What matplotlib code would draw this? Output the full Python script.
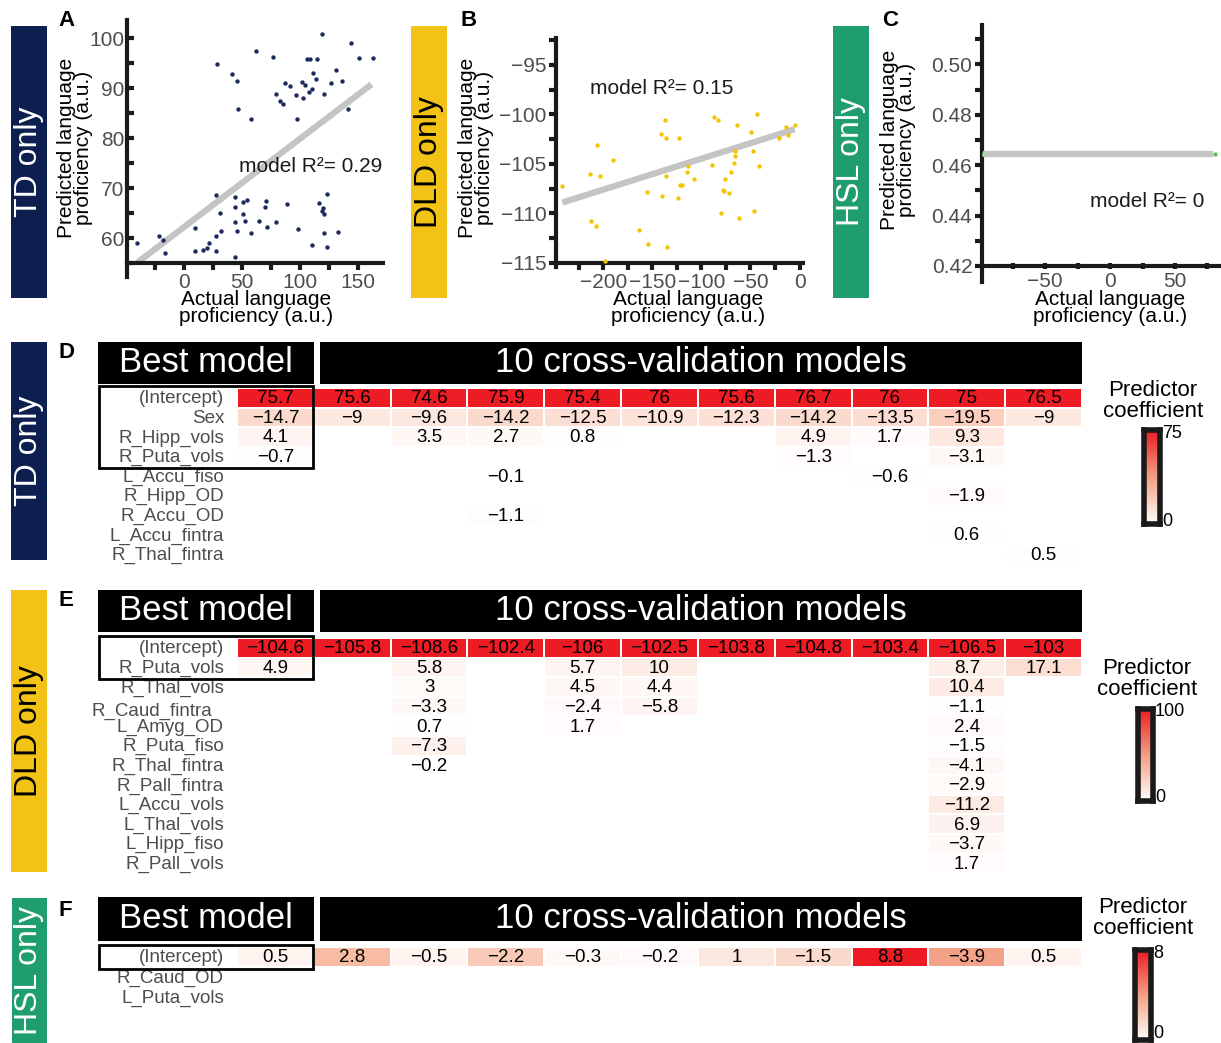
import numpy as np
import matplotlib.pyplot as plt
from matplotlib.patches import Rectangle
from matplotlib.colors import LinearSegmentedColormap, Normalize
from matplotlib.ticker import MultipleLocator, FormatStrFormatter

plt.rcParams['font.family'] = ['Liberation Sans', 'DejaVu Sans']

W, H = 1221, 1043
_ = None

# ---- A: TD only (actual vs predicted)
td_actual = [119, 144, 62, 77, 151, 163, 106, 109, 115, 29, 42, 46, 112, 114, 131, 137, 127,
             102, 105, 87, 92, 80, 97, 103, 108, 111, 121, 83, 86, 47, 142, 58, 98,
             28, 44, 124, 51, 55, 71, 70, 89, 44, 31, 51, 117, 120, 119, 121, 44, 53, 65, 80,
             10, 32, 46, 58, 72, 99, 121, 133, 28, -21, -18, -40, -16, 22, 20, 17, 10, 28,
             111, 124, 44]
td_pred = [100.9, 99, 97.5, 96.3, 96, 96, 95.8, 95.8, 95.8, 94.9, 92.9, 91.4, 93, 91.9, 93.7, 91.5, 91.1,
           91.2, 90.6, 91, 90.4, 88.9, 88.6, 88.1, 89.3, 89.9, 88.9, 87.5, 86.8, 85.9, 85.8, 83.9, 83.8,
           68.6, 68.3, 68.9, 67.3, 67.7, 67.5, 66.3, 66.9, 66.3, 65.1, 64.9, 67.1, 66, 65.5, 64.9, 63.3, 63.4, 63.4, 63.3,
           62, 61.5, 61.5, 61, 62.3, 61.9, 61.1, 61.2, 60.5, 60.5, 59.6, 59.1, 57.1, 59.1, 58.1, 57.7, 57.5, 57.5,
           58.6, 58.3, 56.3]
td_fit_x = [-40, 162]
td_fit_y = [55.1, 90.8]

# ---- B: DLD only
dld_actual = [-241.6, -213.7, -212.4, -207.6, -206.5, -202.7, -197.6, -190.0, -163.6, -155.3,
              -154.0, -141.2, -140.2, -136.8, -135.7, -135.7, -135.4, -123.4, -123.0, -122.0,
              -119.2, -114.1, -115.1, -107.9, -89.3, -87.3, -82.8, -80.1, -78.4, -76.6,
              -75.6, -71.8, -69.8, -66.3, -66.0, -65.3, -63.9, -61.9, -49.1, -47.4,
              -46.4, -41.6, -43.0, -20.6, -13.7, -11.3, -4.8]
dld_pred = [-107.2, -106.0, -110.8, -111.3, -103.1, -106.2, -114.8, -104.6, -111.7, -107.8,
            -113.1, -102.0, -108.2, -100.6, -102.4, -106.2, -113.4, -108.4, -102.4, -107.1,
            -107.1, -105.2, -105.8, -106.5, -105.1, -100.3, -100.6, -110.0, -107.6, -107.7,
            -106.5, -107.9, -105.8, -104.9, -104.2, -103.7, -101.1, -110.5, -101.8, -103.7,
            -109.8, -105.2, -100.0, -102.4, -101.3, -102.1, -101.1]
dld_fit_x = [-241.6, -4.8]
dld_fit_y = [-108.9, -101.5]

# ---- C: HSL only
hsl_actual = [-98, 80.5]
hsl_pred = [0.4646, 0.4646]
hsl_fit_x = [-97.4, 79.5]
hsl_fit_y = [0.4646, 0.4646]

# ---- D/E/F: predictor coefficients (best model + 10 CV models)
td_rows = ['(Intercept)', 'Sex', 'R_Hipp_vols', 'R_Puta_vols', 'L_Accu_fiso', 'R_Hipp_OD',
           'R_Accu_OD', 'L_Accu_fintra', 'R_Thal_fintra']
td_coefs = [
    [75.7, 75.6, 74.6, 75.9, 75.4, 76, 75.6, 76.7, 76, 75, 76.5],
    [-14.7, -9, -9.6, -14.2, -12.5, -10.9, -12.3, -14.2, -13.5, -19.5, -9],
    [4.1, _, 3.5, 2.7, 0.8, _, _, 4.9, 1.7, 9.3, _],
    [-0.7, _, _, _, _, _, _, -1.3, _, -3.1, _],
    [_, _, _, -0.1, _, _, _, _, -0.6, _, _],
    [_, _, _, _, _, _, _, _, _, -1.9, _],
    [_, _, _, -1.1, _, _, _, _, _, _, _],
    [_, _, _, _, _, _, _, _, _, 0.6, _],
    [_, _, _, _, _, _, _, _, _, _, 0.5],
]
dld_rows = ['(Intercept)', 'R_Puta_vols', 'R_Thal_vols', 'R_Caud_fintra', 'L_Amyg_OD', 'R_Puta_fiso',
            'R_Thal_fintra', 'R_Pall_fintra', 'L_Accu_vols', 'L_Thal_vols', 'L_Hipp_fiso', 'R_Pall_vols']
dld_coefs = [
    [-104.6, -105.8, -108.6, -102.4, -106, -102.5, -103.8, -104.8, -103.4, -106.5, -103],
    [4.9, _, 5.8, _, 5.7, 10, _, _, _, 8.7, 17.1],
    [_, _, 3, _, 4.5, 4.4, _, _, _, 10.4, _],
    [_, _, -3.3, _, -2.4, -5.8, _, _, _, -1.1, _],
    [_, _, 0.7, _, 1.7, _, _, _, _, 2.4, _],
    [_, _, -7.3, _, _, _, _, _, _, -1.5, _],
    [_, _, -0.2, _, _, _, _, _, _, -4.1, _],
    [_, _, _, _, _, _, _, _, _, -2.9, _],
    [_, _, _, _, _, _, _, _, _, -11.2, _],
    [_, _, _, _, _, _, _, _, _, 6.9, _],
    [_, _, _, _, _, _, _, _, _, -3.7, _],
    [_, _, _, _, _, _, _, _, _, 1.7, _],
]
hsl_rows = ['(Intercept)', 'R_Caud_OD', 'L_Puta_vols']
hsl_coefs = [
    [0.5, 2.8, -0.5, -2.2, -0.3, -0.2, 1, -1.5, 8.8, -3.9, 0.5],
    [_] * 11,
    [_] * 11,
]
cbar_max = [75, 100, 8]

coef_cmap = LinearSegmentedColormap.from_list(
    'coef', [(0, '#ffffff'), (0.35, '#f8bba4'), (0.5, '#f4a084'), (1, '#ed1c24')])

fig = plt.figure(figsize=(W / 100, H / 100), dpi=100)


def add_ax(x0, y0, x1, y1):
    return fig.add_axes([x0 / W, 1 - y1 / H, (x1 - x0) / W, (y1 - y0) / H])


def px_text(x, y, s, **kw):
    fig.text(x / W, 1 - y / H, s, **kw)


def px_rect(x0, y0, x1, y1, **kw):
    fig.add_artist(Rectangle((x0 / W, 1 - y1 / H), (x1 - x0) / W, (y1 - y0) / H,
                             transform=fig.transFigure, **kw))


def fmt(v):
    return f'{v:g}'.replace('-', '\u2212')


def side_label(x0, y0, x1, y1, text, bg, fg):
    px_rect(x0, y0, x1, y1, color=bg, lw=0)
    px_text((x0 + x1) / 2, (y0 + y1) / 2, text, rotation=90, ha='center', va='center',
            fontsize=23, color=fg)


def scatter_panel(box, xs, ys, fit_x, fit_y, color, xlim, ylim, xstep, ystep,
                  ydir, xdir, r2_xy, r2, line_on_top=False, yfmt=None, ext=0):
    ax = add_ax(*box)
    ax.plot(fit_x, fit_y, color='#c4c4c4', lw=4.5, solid_capstyle='butt',
            zorder=4 if line_on_top else 2)
    ax.scatter(xs, ys, s=10, color=color, lw=0, zorder=3)
    ax.set_xlim(xlim)
    ax.set_ylim(ylim)
    ax.patch.set_visible(False)
    for s in ['top', 'right']:
        ax.spines[s].set_visible(False)
    for s in ['left', 'bottom']:
        ax.spines[s].set_linewidth(3)
        ax.spines[s].set_color('#1a1a1a')
    ax.spines['left'].set_bounds(ylim[0] - ext, ylim[1])
    ax.xaxis.set_major_locator(MultipleLocator(xstep))
    ax.xaxis.set_minor_locator(MultipleLocator(xstep / 2))
    ax.yaxis.set_major_locator(MultipleLocator(ystep))
    ax.yaxis.set_minor_locator(MultipleLocator(ystep / 2))
    if yfmt:
        ax.yaxis.set_major_formatter(FormatStrFormatter(yfmt))
    ax.tick_params(which='both', width=3, length=5, color='#1a1a1a', labelsize=15,
                   labelcolor='#4d4d4d', pad=2)
    ax.tick_params(axis='y', which='both', direction=ydir)
    ax.tick_params(axis='x', which='both', direction=xdir)
    ax.text(r2_xy[0], r2_xy[1], r2, fontsize=15, color='#1a1a1a', ha='left', va='center')
    return ax


# ---------- top row: scatter panels
side_label(11, 26, 47, 298, 'TD only', '#0c1f4e', 'white')
side_label(411, 26, 447, 298, 'DLD only', '#f2c316', 'black')
side_label(833, 26, 869, 298, 'HSL only', '#1f9d6f', 'white')

scatter_panel((127, 20, 383, 263), td_actual, td_pred, td_fit_x, td_fit_y, '#1b2b5e',
              (-49, 172), (55, 103.7), 50, 10, 'in', 'out', (48, 74.3), 'model R²= 0.29', ext=2.8)
scatter_panel((556, 38, 803, 263), dld_actual, dld_pred, dld_fit_x, dld_fit_y, '#f5c400',
              (-248, 3.5), (-115, -92.3), 50, 5, 'out', 'out', (-213, -97.4), 'model R²= 0.15', ext=0.4)
scatter_panel((982, 25, 1221, 266), hsl_actual, hsl_pred, hsl_fit_x, hsl_fit_y, '#5cc15c',
              (-98.5, 85.4), (0.42, 0.5156), 50, 0.02, 'out', 'inout', (-15.4, 0.4454), 'model R²= 0',
              line_on_top=True, yfmt='%.2f', ext=0.0063)

ylab = 'Predicted language\nproficiency (a.u.)'
xlab = 'Actual language\nproficiency (a.u.)'
for x, y in [(75, 148), (476, 148), (898, 140)]:
    px_text(x, y, ylab, rotation=90, ha='center', va='center', fontsize=15, linespacing=0.9)
for x in [256, 688, 1110]:
    px_text(x, 308, xlab, ha='center', va='center', fontsize=15, linespacing=0.9)

for x, y, s in [(58, 20, 'A'), (460, 20, 'B'), (882, 20, 'C'),
                (59, 353, 'D'), (59, 600, 'E'), (59, 910, 'F')]:
    px_text(x, y, s, fontsize=16, fontweight='bold', ha='left', va='center')


# ---------- coefficient tables
def table_panel(rows, vals, vmax, head, cell_top, row_h, n_best, cbar_box, cbar_title_xy):
    n = len(rows)
    col_w = (1082 - 237) / 11
    ax = add_ax(237, cell_top, 1082, cell_top + n * row_h)
    data = np.array([[np.nan if v is None else abs(v) for v in r] for r in vals], dtype=float)
    ax.pcolormesh(np.ma.masked_invalid(data), cmap=coef_cmap,
                  norm=Normalize(0, vmax, clip=True), edgecolors='white', linewidth=1.2)
    ax.set_xlim(0, 11)
    ax.set_ylim(n, 0)
    ax.axis('off')
    for i, r in enumerate(vals):
        for j, v in enumerate(r):
            if v is not None:
                ax.text(j + 0.5, i + 0.55, fmt(v), ha='center', va='center', fontsize=13.5)
    for i, name in enumerate(rows):
        dx, dy = (-25, 0.2) if name == 'R_Caud_fintra' else (-13, 0)
        ax.text(dx / col_w, i + 0.55 + dy, name, ha='right', va='center', fontsize=13.5,
                color='#4d4d4d', clip_on=False)

    # headers
    px_rect(98, head[0], 314, head[1], color='black', lw=0)
    px_rect(320, head[0], 1082, head[1], color='black', lw=0)
    hy = (head[0] + head[1]) / 2
    px_text(206, hy, 'Best model', color='white', fontsize=25, ha='center', va='center')
    px_text(701, hy, '10 cross-validation models', color='white', fontsize=25,
            ha='center', va='center')
    # best-model outline
    px_rect(99, cell_top - 2, 313, cell_top + n_best * row_h + 2, fill=False,
            ec='black', lw=2, zorder=5)

    # colour bar
    cax = add_ax(*cbar_box)
    cax.imshow(np.linspace(0, 1, 256)[:, None], aspect='auto', cmap=coef_cmap,
               origin='lower', extent=(0, 1, 0, 1))
    cax.set_xticks([])
    cax.set_yticks([])
    for s in cax.spines.values():
        s.set_linewidth(4)
        s.set_color('#1a1a1a')
    x1, y0, y1 = cbar_box[2], cbar_box[1], cbar_box[3]
    px_text(x1 + 2, y0 + 3, str(vmax), fontsize=13, ha='left', va='center')
    px_text(x1 + 2, min(y1 - 3, H - 10), '0', fontsize=13, ha='left', va='center')
    px_text(cbar_title_xy[0], cbar_title_xy[1], 'Predictor\ncoefficient', fontsize=16,
            ha='center', va='center', linespacing=1.0)


side_label(11, 342, 47, 560, 'TD only', '#0c1f4e', 'white')
side_label(11, 590, 47, 872, 'DLD only', '#f2c316', 'black')
side_label(12, 898, 47, 1043, 'HSL only', '#1f9d6f', 'white')

table_panel(td_rows, td_coefs, cbar_max[0], (342, 384), 388, 19.6, 4,
            (1144, 430, 1160, 524), (1153, 401))
table_panel(dld_rows, dld_coefs, cbar_max[1], (590, 632), 638, 19.6, 2,
            (1138, 709, 1153, 801), (1147, 679))
table_panel(hsl_rows, hsl_coefs, cbar_max[2], (897, 941), 947, 20, 1,
            (1135, 950, 1151, 1040), (1143, 918))

fig.savefig('out.png', dpi=100)
